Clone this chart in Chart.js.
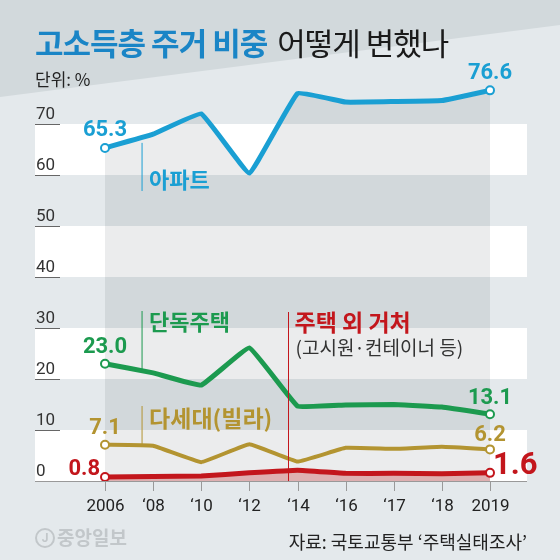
<!DOCTYPE html>
<html>
<head>
<meta charset="utf-8">
<script src="https://cdn.jsdelivr.net/npm/chart.js@4"></script>
<style>
  body { margin: 0; background: #e4e9ec; }
  #wrap { width: 560px; height: 560px; }
</style>
</head>
<body>
<div id="wrap"><canvas id="housingChart" width="560" height="560"></canvas></div>
<script>
const years = ['2006', '‘08', '‘10', '‘12', '‘14', '‘16', '‘17', '‘18', '2019'];
const apartment = [65.3, 68.0, 72.0, 60.4, 76.0, 74.3, 74.4, 74.6, 76.6];
const detached = [23.0, 21.2, 18.8, 26.1, 14.7, 14.9, 15.0, 14.5, 13.1];
const multiFamily = [7.1, 6.9, 3.7, 7.2, 3.8, 6.5, 6.3, 6.7, 6.2];
const nonHousing = [0.8, 0.9, 1.0, 1.6, 2.1, 1.5, 1.5, 1.4, 1.6];
const yTicks = [0, 10, 20, 30, 40, 50, 60, 70];

const KR = '"Noto Sans CJK KR", sans-serif';
const NUM = 'Roboto, "Liberation Sans", sans-serif';

const BLUE = '#1a9fd3';
const GREEN = '#1c9a4f';
const GOLD = '#b39431';
const RED = '#c3161c';

function toPoints(values) {
    return values.map((v, i) => ({ x: i, y: v }));
}

function endRadius(values, r) {
    return values.map((v, i) => (i === 0 || i === values.length - 1) ? r : 0);
}

function lineSet(label, values, color, width, fill, fillColor) {
    return {
        label: label,
        data: toPoints(values),
        borderColor: color,
        borderWidth: width,
        fill: fill,
        backgroundColor: fillColor,
        pointRadius: endRadius(values, 4),
        pointBackgroundColor: '#ffffff',
        pointBorderColor: color,
        pointBorderWidth: 2,
        tension: 0.08
    };
}

function text(ctx, str, x, y, font, color, align) {
    ctx.font = font;
    ctx.fillStyle = color;
    ctx.textAlign = align || 'left';
    ctx.textBaseline = 'middle';
    ctx.fillText(str, x, y);
}

// background, white bands
const backdrop = {
    id: 'backdrop',
    beforeDraw(chart) {
        const { ctx, chartArea, scales } = chart;
        const y = scales.y;
        ctx.save();
        ctx.fillStyle = '#e4e9ec';
        ctx.fillRect(0, 0, chart.width, chart.height);
        ctx.fillStyle = '#d2d9dc';
        ctx.beginPath();
        ctx.moveTo(0, 0);
        ctx.lineTo(chart.width, 0);
        ctx.lineTo(chart.width, 25);
        ctx.lineTo(0, 97);
        ctx.closePath();
        ctx.fill();
        ctx.fillStyle = '#ffffff';
        for (let v = 0; v < 70; v += 20) {
            const top = y.getPixelForValue(v + 10);
            const bottom = y.getPixelForValue(v);
            ctx.fillRect(chartArea.left, top, chartArea.right - chartArea.left, bottom - top);
        }
        ctx.restore();
    }
};

// axes, labels and notes
const decorations = {
    id: 'decorations',
    afterDatasetsDraw(chart) {
        const { ctx, chartArea, scales } = chart;
        const x = scales.x;
        const y = scales.y;
        const base = y.getPixelForValue(0);
        ctx.save();

        // y tick labels with short underlines
        yTicks.forEach(v => {
            const py = y.getPixelForValue(v);
            ctx.strokeStyle = '#666';
            ctx.lineWidth = 1;
            ctx.beginPath();
            ctx.moveTo(chartArea.left, py + 0.5);
            ctx.lineTo(chartArea.left + 25, py + 0.5);
            ctx.stroke();
            text(ctx, String(v), chartArea.left + 1, py - 9, '17px ' + NUM, '#333');
        });

        // x axis
        ctx.strokeStyle = '#999';
        ctx.lineWidth = 1;
        ctx.beginPath();
        ctx.moveTo(chartArea.left, base + 0.5);
        ctx.lineTo(chartArea.right, base + 0.5);
        ctx.stroke();
        years.forEach((lab, i) => {
            const px = Math.round(x.getPixelForValue(i)) + 0.5;
            ctx.beginPath();
            ctx.moveTo(px, base);
            ctx.lineTo(px, base + 10);
            ctx.stroke();
            text(ctx, lab, px, base + 26, '17px ' + NUM, '#222', 'center');
        });

        const px0 = x.getPixelForValue(0);
        const pxN = x.getPixelForValue(years.length - 1);
        const last = years.length - 1;

        // value labels
        text(ctx, '65.3', px0, y.getPixelForValue(apartment[0]) - 17, 'bold 22px ' + NUM, BLUE, 'center');
        text(ctx, '76.6', pxN, y.getPixelForValue(apartment[last]) - 17, 'bold 22px ' + NUM, BLUE, 'center');
        text(ctx, '23.0', px0, y.getPixelForValue(detached[0]) - 16, 'bold 22px ' + NUM, GREEN, 'center');
        text(ctx, '13.1', pxN, y.getPixelForValue(detached[last]) - 16, 'bold 22px ' + NUM, GREEN, 'center');
        text(ctx, '7.1', px0, y.getPixelForValue(multiFamily[0]) - 16, 'bold 22px ' + NUM, GOLD, 'center');
        text(ctx, '6.2', pxN, y.getPixelForValue(multiFamily[last]) - 14, 'bold 22px ' + NUM, GOLD, 'center');
        text(ctx, '0.8', px0 - 5, y.getPixelForValue(nonHousing[0]) - 7, 'bold 22px ' + NUM, RED, 'right');
        text(ctx, '1.6', pxN + 3, y.getPixelForValue(nonHousing[last]) - 7, 'bold 31px ' + NUM, RED, 'left');

        // series labels with leader lines
        const lx = x.getPixelForValue(0.77);
        ctx.lineWidth = 1;
        ctx.strokeStyle = BLUE;
        ctx.beginPath();
        ctx.moveTo(lx, y.getPixelForValue(66.3));
        ctx.lineTo(lx, 191);
        ctx.stroke();
        text(ctx, '아파트', lx + 7, 180, 'bold 22px ' + KR, BLUE);

        ctx.strokeStyle = GREEN;
        ctx.beginPath();
        ctx.moveTo(lx, 311);
        ctx.lineTo(lx, y.getPixelForValue(21.7));
        ctx.stroke();
        text(ctx, '단독주택', lx + 7, 322, 'bold 22px ' + KR, GREEN);

        ctx.strokeStyle = GOLD;
        ctx.beginPath();
        ctx.moveTo(lx, 406);
        ctx.lineTo(lx, y.getPixelForValue(7.0));
        ctx.stroke();
        text(ctx, '다세대(빌라)', lx + 7, 418, 'bold 23px ' + KR, GOLD);

        const rx = Math.round(x.getPixelForValue(3.8)) + 0.5;
        ctx.strokeStyle = RED;
        ctx.beginPath();
        ctx.moveTo(rx, 312);
        ctx.lineTo(rx, base);
        ctx.stroke();
        text(ctx, '주택 외 거처', rx + 6, 322, 'bold 23px ' + KR, RED);
        text(ctx, '(고시원·컨테이너 등)', rx + 7, 348, '19px ' + KR, '#333');

        // title
        ctx.letterSpacing = '-1px';
        text(ctx, '고소득층 주거 비중', 35, 43, 'bold 31px ' + KR, '#1a85c6');
        const tw = ctx.measureText('고소득층 주거 비중').width;
        text(ctx, '어떻게 변했나', 35 + tw + 10, 43, '31px ' + KR, '#1a1a1a');
        ctx.letterSpacing = '0px';
        text(ctx, '단위: %', 35, 80, '17px ' + KR, '#222');

        // footer
        text(ctx, '자료: 국토교통부 ‘주택실태조사’', chartArea.right, 542, '18px ' + KR, '#222', 'right');
        ctx.strokeStyle = '#c2c7ca';
        ctx.lineWidth = 2;
        ctx.beginPath();
        ctx.arc(45, 538, 9, 0, Math.PI * 2);
        ctx.stroke();
        text(ctx, 'J', 45, 539, 'bold 12px ' + NUM, '#c2c7ca', 'center');
        text(ctx, '중앙일보', 57, 538, 'bold 19px ' + KR, '#c2c7ca');

        ctx.restore();
    }
};

const ctx = document.getElementById('housingChart').getContext('2d');
const chart = new Chart(ctx, {
    type: 'line',
    data: {
        datasets: [
            lineSet('아파트', apartment, BLUE, 5, 'origin', 'rgba(35,45,50,0.09)'),
            lineSet('단독주택', detached, GREEN, 5, false, 'transparent'),
            lineSet('다세대(빌라)', multiFamily, GOLD, 4, false, 'transparent'),
            lineSet('주택 외 거처', nonHousing, RED, 5, 'origin', 'rgba(225,110,110,0.45)')
        ]
    },
    options: {
        responsive: false,
        animation: false,
        layout: {
            padding: { left: 35, right: 33, top: 73, bottom: 79 }
        },
        scales: {
            x: {
                type: 'linear',
                display: false,
                min: -70 / 48.125,
                max: 8 + 37 / 48.125
            },
            y: {
                display: false,
                min: 0,
                max: 80
            }
        },
        plugins: {
            legend: { display: false },
            tooltip: { enabled: false },
            filler: { drawTime: 'beforeDatasetsDraw' }
        }
    },
    plugins: [backdrop, decorations]
});
</script>
</body>
</html>
